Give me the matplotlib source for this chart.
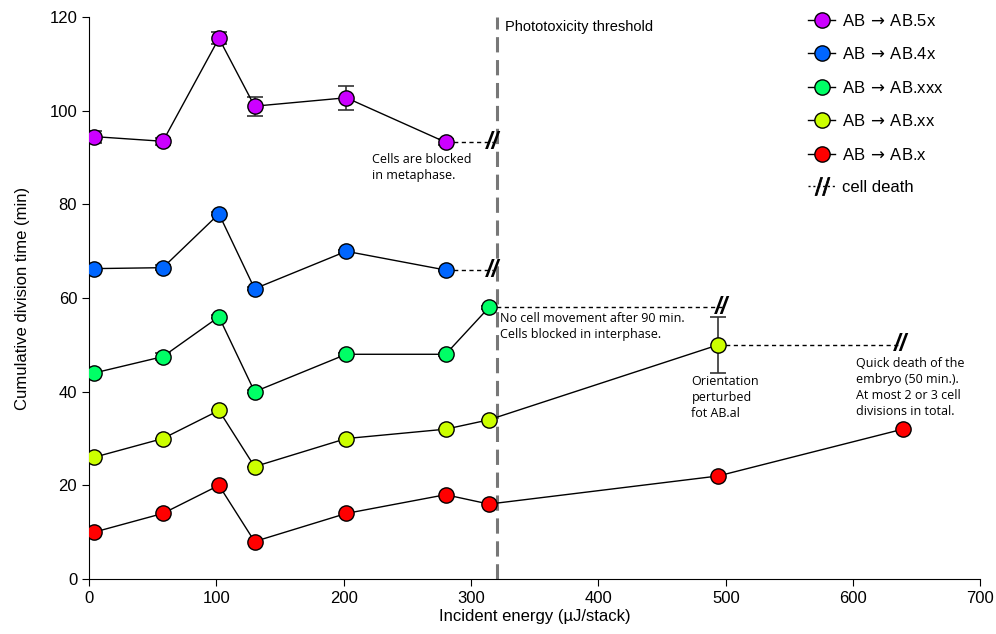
# Cumulative division time vs incident energy
import matplotlib
matplotlib.use('Agg')
import matplotlib.pyplot as plt
from matplotlib.lines import Line2D

plt.rcParams['font.family'] = ['Liberation Sans', 'DejaVu Sans']

# DATA
# ------------------------------------------------------------------
x_5x = [4, 58, 102, 130, 202, 280]
y_5x = [94.5, 93.5, 115.5, 101.0, 102.8, 93.3]
e_5x = [1.3, 0.8, 1.3, 2.0, 2.6, 0.6]

x_4x = [4, 58, 102, 130, 202, 280]
y_4x = [66.3, 66.5, 78.0, 62.0, 70.0, 66.0]
e_4x = [0.4, 0.6, 0.3, 0.3, 0.3, 0.3]

x_xxx = [4, 58, 102, 130, 202, 280, 314]
y_xxx = [44.0, 47.5, 56.0, 40.0, 48.0, 48.0, 58.0]
e_xxx = [0.3, 0.8, 0.3, 0.3, 0.3, 0.3, 0.3]

x_xx = [4, 58, 102, 130, 202, 280, 314, 494]
y_xx = [26.0, 30.0, 36.0, 24.0, 30.0, 32.0, 34.0, 50.0]
e_xx = [0, 0, 0, 0, 0, 0, 0, 6.0]

x_x = [4, 58, 102, 130, 202, 280, 314, 494, 639]
y_x = [10.0, 14.0, 20.0, 8.0, 14.0, 18.0, 16.0, 22.0, 32.0]

labels = ['AB$\\,\\rightarrow\\,$AB.5x', 'AB$\\,\\rightarrow\\,$AB.4x',
          'AB$\\,\\rightarrow\\,$AB.xxx', 'AB$\\,\\rightarrow\\,$AB.xx',
          'AB$\\,\\rightarrow\\,$AB.x']
colors = ['#CC00FF', '#0066FF', '#00FF66', '#CCFF00', '#FF0000']

threshold_x = 320

# cell death: (start x, end x, y)
death_lines = [(280, 317, 93.3), (280, 317, 66.0),
               (314, 497, 58.0), (494, 637, 50.0)]

# FIGURE
# ------------------------------------------------------------------
fig = plt.figure(figsize=(9.96, 6.34), dpi=100)
ax = fig.add_axes([0.0894, 0.0868, 0.895, 0.886])

series = [(x_5x, y_5x, e_5x), (x_4x, y_4x, e_4x), (x_xxx, y_xxx, e_xxx),
          (x_xx, y_xx, e_xx), (x_x, y_x, None)]

# dotted connectors to cell death marks
for x0, x1, yv in death_lines:
    ax.plot([x0, x1], [yv, yv], color='black', lw=1, ls=(0, (3, 2.5)), zorder=1)
    ax.text(x1, yv, '//', fontsize=17, fontweight='bold', style='italic',
            ha='center', va='center', color='black', zorder=5)

for (xs, ys, es), col in zip(series, colors):
    if es is not None:
        ax.errorbar(xs, ys, yerr=es, fmt='none', ecolor='#333333',
                    elinewidth=1.2, capsize=6, capthick=1.2, zorder=2)
    ax.plot(xs, ys, color='black', lw=1, marker='o', ms=11,
            mfc=col, mec='black', mew=1, zorder=3)

# phototoxicity threshold
ax.axvline(threshold_x, color='#777777', lw=2.2, ls=(0, (5, 2.5)), zorder=1)
ax.text(threshold_x + 7, 119.5, 'Phototoxicity threshold', fontsize=10.5,
        ha='left', va='top')

# annotations
note_font = dict(fontsize=9, family='Open Sans', color='black')
ax.text(222, 91.0, 'Cells are blocked\nin metaphase.', ha='left', va='top',
        linespacing=1.3, **note_font)
ax.text(323, 57.0, 'No cell movement after 90 min.\nCells blocked in interphase.',
        ha='left', va='top', linespacing=1.3, **note_font)
ax.text(473, 43.6, 'Orientation\nperturbed\nfot AB.al', ha='left', va='top',
        linespacing=1.3, **note_font)
ax.text(602, 47.4, 'Quick death of the\nembryo (50 min.).\nAt most 2 or 3 cell\ndivisions in total.',
        ha='left', va='top', linespacing=1.3, **note_font)

# axes styling
ax.set_xlim(0, 700)
ax.set_ylim(0, 120)
ax.set_xticks(range(0, 701, 100))
ax.set_yticks(range(0, 121, 20))
for s in ['top', 'right']:
    ax.spines[s].set_visible(False)
ax.tick_params(direction='out', length=5, labelsize=12)
ax.set_xlabel('Incident energy (\u00b5J/stack)', fontsize=12, labelpad=2)
ax.set_ylabel('Cumulative division time (min)', fontsize=12, labelpad=14)

# legend
handles = [Line2D([0], [0], color='black', lw=1, marker='o', ms=11,
                  mfc=c, mec='black') for c in colors]
handles.append(Line2D([0], [0], color='black', lw=1, ls=(0, (1.5, 2)),
                      marker='$//$', ms=13, markevery=[1], mew=0.6))
leg = ax.legend(handles, labels + ['cell death'], loc='upper right',
                bbox_to_anchor=(0.975, 1.035), frameon=False, fontsize=12,
                handlelength=1.6, handletextpad=0.4, labelspacing=1.05)

fig.savefig('out.png', dpi=100)
